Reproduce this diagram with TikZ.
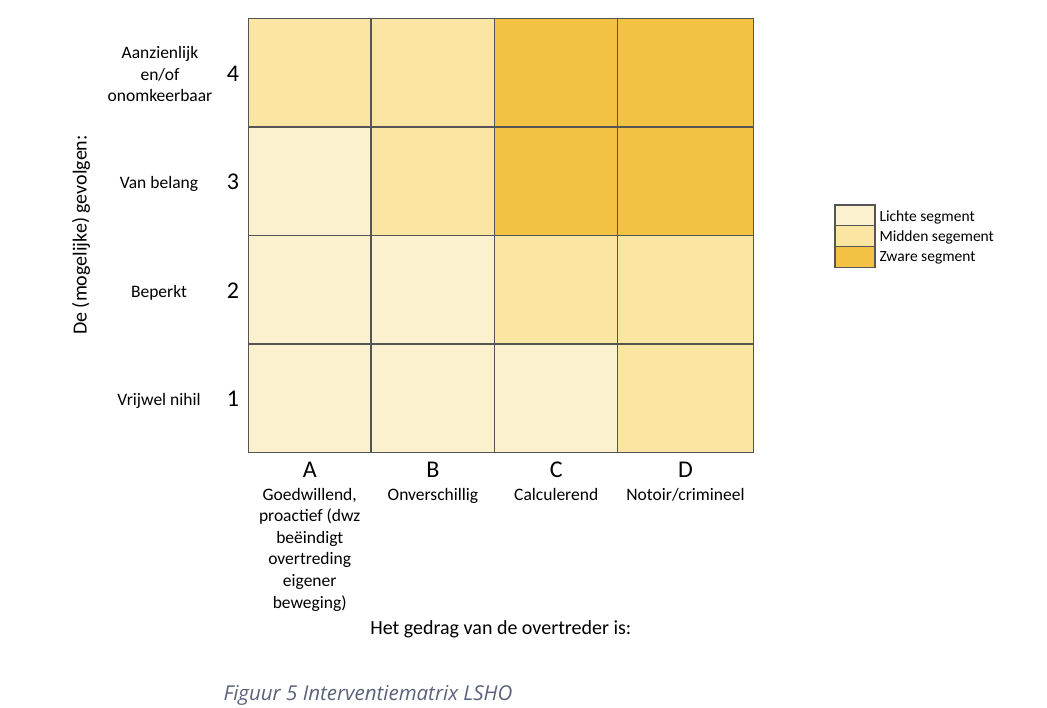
\documentclass[tikz,border=0pt]{standalone}
\usepackage{fontspec}
\setmainfont{Carlito}
\newfontfamily\captionfont{Open Sans}
\usepackage{xcolor}
\usepackage{tikz}
\usetikzlibrary{positioning}
\definecolor{lichtkl}{HTML}{FCF1CF}
\definecolor{middenkl}{HTML}{FAE6A2}
\definecolor{zwaarkl}{HTML}{F3C244}
\definecolor{rand}{HTML}{555555}
\definecolor{bijschriftkl}{HTML}{59627A}
\tikzset{
  cell/.style={draw=rand, line width=1.3pt},
  licht/.style={cell, fill=lichtkl},
  midden/.style={cell, fill=middenkl},
  zwaar/.style={cell, fill=zwaarkl},
  txt/.style={font=\fontsize{17.5}{21.6}\selectfont, align=center, inner sep=0pt, anchor=base},
  big/.style={font=\fontsize{24}{28}\selectfont, inner sep=0pt, anchor=base},
  leg/.style={font=\fontsize{15.5}{19}\selectfont, inner sep=0pt, anchor=base west}
}

\begin{document}
\begin{tikzpicture}[x=1pt, y=-1pt]
    \useasboundingbox (0,0) rectangle (1047,708);
    % Matrix: per column the cells from row 4 down to row 1
    \foreach \xl/\xr/\kleuren in {248.3/371/{midden,licht,licht,licht},
                                  371/494.7/{midden,midden,licht,licht},
                                  494.7/617.7/{zwaar,zwaar,midden,licht},
                                  617.7/753.3/{zwaar,zwaar,midden,midden}} {
      \foreach \kl [count=\i from 0] in \kleuren {
        \draw[\kl] (\xl,{18.3+108.6*\i}) rectangle (\xr,{18.3+108.6*(\i+1)});
      }
    }
    % Row labels (gevolgen)
    \node[txt, anchor=center] (rij4) at (160,74) {Aanzienlijk\\en/of\\onomkeerbaar};
    \foreach \r/\tekst in {3/Van belang,2/Beperkt,1/Vrijwel nihil} {
      \node[txt] (rij\r) at (159,{18.3+108.6*(4-\r)+54.3+7.5}) {\tekst};
    }
    \foreach \r in {1,...,4} {
      \node[big] (num\r) at (233,{18.3+108.6*(4-\r)+54.3+8.5}) {\r};
    }
    % Column labels (gedrag)
    \foreach \xm/\letter/\tekst in {309.7/A/{Goedwillend,\\proactief (dwz\\beëindigt\\overtreding\\eigener\\beweging)},
                                    432.9/B/Onverschillig,556.2/C/Calculerend,685.5/D/{Notoir/crimineel}} {
      \node[big] (kol\letter) at (\xm,477.3) {\letter};
      \node[txt, anchor=north] (gedrag\letter) at (\xm,487.7) {\tekst};
    }
    % Axis titles
    \node[font=\fontsize{20}{24}\selectfont, rotate=90, inner sep=0pt] (yas) at (81,235) {De (mogelijke) gevolgen:};
    \node[txt, font=\fontsize{20}{24}\selectfont] (xas) at (500.8,634) {Het gedrag van de overtreder is:};
    % Legend
    \foreach \i/\kl/\tekst in {0/licht/Lichte segment,1/midden/Midden segement,2/zwaar/Zware segment} {
      \draw[\kl, line width=1.1pt] (835,{205+20.8*\i}) rectangle ++(40,20.8);
      \node[leg] (leg\i) at (879.3,{221.7+20*\i}) {\tekst};
    }
    % Caption
    \node[anchor=base west, inner sep=0pt, text=bijschriftkl,
          font=\captionfont\itshape\fontsize{20.5}{24}\selectfont] (bijschrift) at (223.3,700) {Figuur 5 Interventiematrix LSHO};
\end{tikzpicture}
\end{document}
